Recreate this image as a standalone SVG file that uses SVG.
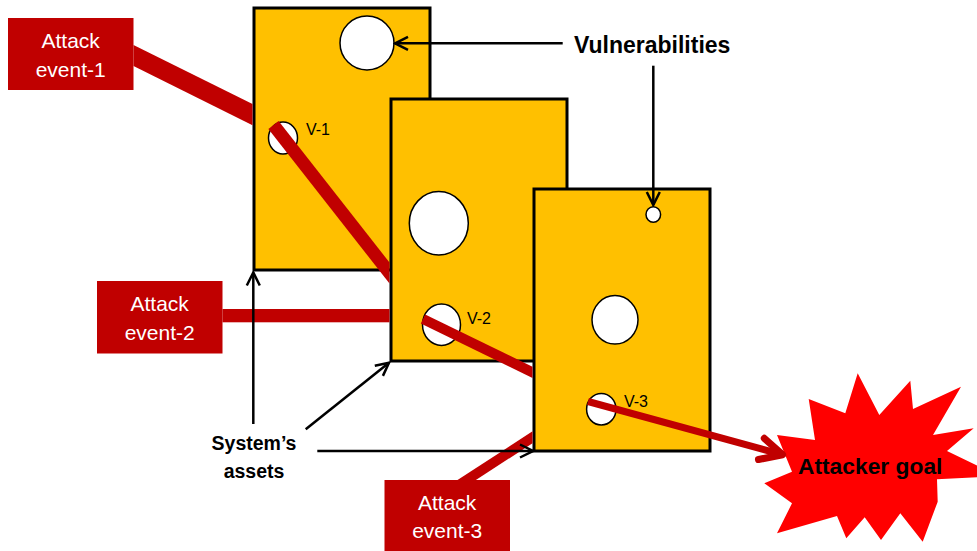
<svg xmlns="http://www.w3.org/2000/svg" width="977" height="551" viewBox="0 0 977 551">
  <style>
    .panel{fill:#FFC000;stroke:#000;stroke-width:3}
    .hole{fill:#fff;stroke:#000;stroke-width:1.5}
    .vlab{font-family:"Liberation Sans",Arial,sans-serif;font-size:16px;fill:#000}
    .evbox{fill:#C00000}
    .evtxt{font-family:"Liberation Sans",Arial,sans-serif;font-size:21px;fill:#fff;text-anchor:middle}
    .bold{font-family:"Liberation Sans",Arial,sans-serif;font-weight:bold;fill:#000}
    .path{fill:#C00000}
    .ptr{stroke:#000;stroke-width:2.5;fill:none;marker-end:url(#ah)}
  </style>
  <defs>
    <marker id="ah" markerUnits="userSpaceOnUse" viewBox="-16 -9 18 18" refX="0" refY="0" markerWidth="18" markerHeight="18" orient="auto">
      <path d="M-13,-6.5 L0,0 L-13,6.5" fill="none" stroke="#000" stroke-width="2.5"/>
    </marker>
    <marker id="rh" markerUnits="userSpaceOnUse" viewBox="-28 -16 34 32" refX="0" refY="0" markerWidth="34" markerHeight="32" orient="auto">
      <path d="M-22,-11 L0,0 L-22,11" fill="none" stroke="#C00000" stroke-width="7" stroke-linecap="round" stroke-linejoin="round"/>
    </marker>
  </defs>

  <g id="panel-1">
    <rect class="panel" x="254" y="8" width="176" height="262"/>
    <circle class="hole" cx="367" cy="43" r="27"/>
    <ellipse class="hole" cx="283" cy="138" rx="14.5" ry="16"/>
    <text class="vlab" x="306" y="135">V-1</text>
  </g>
  <g id="panel-2">
    <rect class="panel" x="391" y="99" width="176" height="262"/>
    <ellipse class="hole" cx="438.8" cy="223.3" rx="29.5" ry="31.7"/>
    <ellipse class="hole" cx="441.5" cy="324.7" rx="19" ry="20.7"/>
    <text class="vlab" x="467" y="324">V-2</text>
  </g>
  <g id="panel-3">
    <rect class="panel" x="534" y="189" width="176" height="262"/>
    <ellipse class="hole" cx="653.3" cy="214.5" rx="7.3" ry="7.8"/>
    <ellipse class="hole" cx="615" cy="319.8" rx="23" ry="24.2"/>
    <ellipse class="hole" cx="601.3" cy="409.2" rx="14.7" ry="15.8"/>
    <text class="vlab" x="624" y="407">V-3</text>
  </g>

  <g id="attacker-goal">
    <polygon fill="#FF0000" points="777,435 815,440 808.7,399 845.3,413.3 857.7,373.3 879.3,415 910.3,380.7 913,409 961,386.7 933,435 973.7,428.3 947,451 999,476 937,479.3 937.7,501.7 922.7,541.7 900.3,513.3 881,540 864.7,517.3 846.3,538.3 837,516 777,533.3 792,503.3 764.3,483.3 792,471.7"/>
    <text class="bold" x="870.2" y="474" font-size="22.8" text-anchor="middle">Attacker goal</text>
  </g>

  <g id="connectors">
    <polygon class="path" points="133.5,44.9 252.5,104.1 252.5,125.3 133.5,66.1"/>
    <polygon class="path" points="268.4,129 278.6,121 389.5,262.5 389.5,283.5"/>
    <rect class="path" x="222.5" y="309" width="167" height="13.3"/>
    <polygon class="path" points="420.8,323.5 425.2,314.5 532.5,366.8 532.5,377.9"/>
    <polygon class="path" points="457.5,480 532.5,431.25 532.5,443.2 475.9,480"/>
    <line x1="588" y1="401.5" x2="782.6" y2="454.7" stroke="#C00000" stroke-width="7" marker-end="url(#rh)"/>
    <line class="ptr" x1="562.7" y1="43.3" x2="395" y2="43.3"/>
    <line class="ptr" x1="653.3" y1="65.7" x2="653.3" y2="205"/>
    <line class="ptr" x1="253.3" y1="424" x2="253.3" y2="272.5"/>
    <line class="ptr" x1="305.7" y1="429.3" x2="389" y2="362.7"/>
    <line class="ptr" x1="317.3" y1="451" x2="533" y2="451"/>
  </g>

  <g id="attack-event-1">
    <rect class="evbox" x="8" y="18" width="125.5" height="72"/>
    <text class="evtxt" x="70.7" y="48">Attack</text>
    <text class="evtxt" x="70.7" y="77">event-1</text>
  </g>
  <g id="attack-event-2">
    <rect class="evbox" x="97" y="281" width="125.5" height="72.5"/>
    <text class="evtxt" x="159.7" y="310.7">Attack</text>
    <text class="evtxt" x="159.7" y="340">event-2</text>
  </g>
  <g id="attack-event-3">
    <rect class="evbox" x="384.5" y="480" width="125.5" height="72"/>
    <text class="evtxt" x="447.2" y="510">Attack</text>
    <text class="evtxt" x="447.2" y="537.7">event-3</text>
  </g>

  <g id="label-vulnerabilities">
    <text class="bold" x="574" y="52.7" font-size="23">Vulnerabilities</text>
  </g>
  <g id="label-assets">
    <text class="bold" x="254" y="450" font-size="19.5" text-anchor="middle">System’s</text>
    <text class="bold" x="254" y="478" font-size="19.5" text-anchor="middle">assets</text>
  </g>
</svg>
